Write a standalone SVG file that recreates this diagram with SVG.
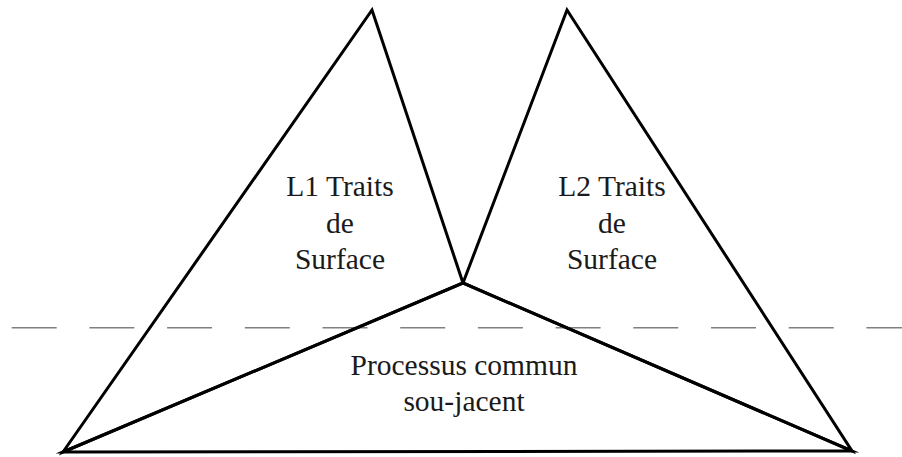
<svg xmlns="http://www.w3.org/2000/svg" width="902" height="457" viewBox="0 0 902 457">
<style>
.tri{fill:none;stroke:#000;stroke-width:3;stroke-linejoin:miter;stroke-miterlimit:20}
.lbl{font-family:"Liberation Serif","Times New Roman",serif;font-size:29.5px;fill:#1a1a1a;text-anchor:middle}
.dash{stroke:#808080;stroke-width:1.6;stroke-dasharray:45 32.7;fill:none}
</style>
<rect width="902" height="457" fill="#fff"/>
<line class="dash" x1="11.7" y1="327.7" x2="902" y2="327.7"/>
<g id="l1">
<polygon class="tri" points="63,452 372,10 463,283"/>
<text class="lbl" x="340" y="196">L1 Traits</text>
<text class="lbl" x="340" y="232.5">de</text>
<text class="lbl" x="340" y="269">Surface</text>
</g>
<g id="l2">
<polygon class="tri" points="463,283 567,10 852,451"/>
<text class="lbl" x="612" y="196">L2 Traits</text>
<text class="lbl" x="612" y="232.5">de</text>
<text class="lbl" x="612" y="269">Surface</text>
</g>
<g id="common">
<polygon class="tri" points="63,452 463,283 852,451"/>
<text class="lbl" x="464" y="374.5">Processus commun</text>
<text class="lbl" x="464" y="411">sou-jacent</text>
</g>
<g id="connectors"/>
</svg>
